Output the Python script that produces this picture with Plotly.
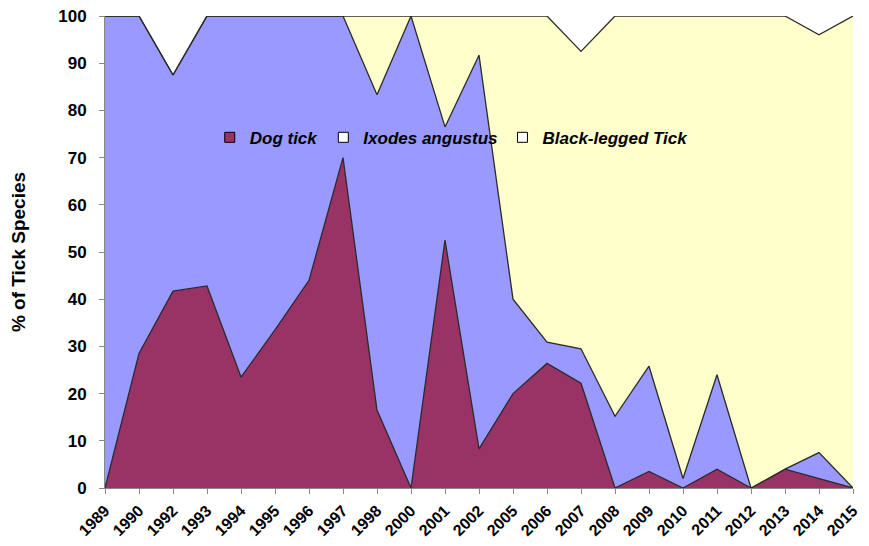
import plotly.graph_objects as go

years = ["1989", "1990", "1992", "1993", "1994", "1995", "1996", "1997", "1998", "2000",
         "2001", "2002", "2005", "2006", "2007", "2008", "2009", "2010", "2011", "2012",
         "2013", "2014", "2015"]
dog_tick = [0, 28.5, 41.7, 42.8, 23.5, 33.5, 44, 70, 16.5, 0,
            52.5, 8.3, 20, 26.4, 22.2, 0, 3.5, 0, 4, 0,
            4, 2, 0]
ixodes = [100, 71.5, 45.8, 57.2, 76.5, 66.5, 56, 30, 66.8, 100,
          24, 83.4, 20, 4.5, 7.3, 15.2, 22.3, 2, 20, 0,
          0, 5.5, 0]
black_legged = [0, 0, 0, 0, 0, 0, 0, 0, 16.7, 0,
                23.5, 8.3, 60, 69.1, 63, 84.8, 74.2, 98, 76, 100,
                96, 88.5, 100]

names = ["Dog tick", "Ixodes angustus", "Black-legged Tick"]
fills = ["#993366", "#9999FF", "#FFFFCC"]
legend_fills = ["#993366", "#FFFFFF", "#FFFFFF"]
series = [dog_tick, ixodes, black_legged]

FONT = "Arial, Liberation Sans, sans-serif"

fig = go.Figure()
for name, vals, col in zip(names, series, fills):
    fig.add_trace(go.Scatter(
        x=years, y=vals, name=name, mode="lines", stackgroup="one",
        fillcolor=col, line=dict(color="#2a2a2a", width=1.3),
        showlegend=False))
for name, col in zip(names, legend_fills):
    fig.add_trace(go.Scatter(
        x=[None], y=[None], name=name, mode="markers",
        marker=dict(symbol="square", size=10, color=col,
                    line=dict(color="#000000", width=1)),
        showlegend=True))

fig.update_layout(
    width=853, height=530,
    margin=dict(l=97, r=8, t=8, b=50, autoexpand=False),
    paper_bgcolor="white", plot_bgcolor="white",
    font=dict(family=FONT, color="black"),
    showlegend=True,
    legend=dict(orientation="h", x=0.14, y=0.742, xanchor="left", yanchor="middle",
                traceorder="normal",
                bgcolor="rgba(0,0,0,0)",
                font=dict(family=FONT, size=17, color="black", weight="bold", style="italic"),
                itemwidth=30, tracegroupgap=0),
    xaxis=dict(type="category", range=[0, 22], showgrid=False, zeroline=False,
               automargin=False, ticklabeloverflow="allow",
               showline=True, linecolor="#888888", linewidth=1,
               ticks="outside", ticklen=5, tickcolor="#888888",
               tickangle=-45, ticklabelstandoff=1,
               tickfont=dict(family=FONT, size=16, color="black", weight="bold")),
    yaxis=dict(range=[0, 100], dtick=10, showgrid=False, zeroline=False,
               automargin=False, ticklabeloverflow="allow",
               showline=True, linecolor="#888888", linewidth=1,
               ticks="outside", ticklen=5, tickcolor="#888888",
               ticklabelstandoff=9,
               tickfont=dict(family=FONT, size=17, color="black", weight="bold"),
               title=dict(text="% of Tick Species", standoff=28,
                          font=dict(family=FONT, size=19, color="black", weight="bold"))),
)

fig.write_html("out.html")
